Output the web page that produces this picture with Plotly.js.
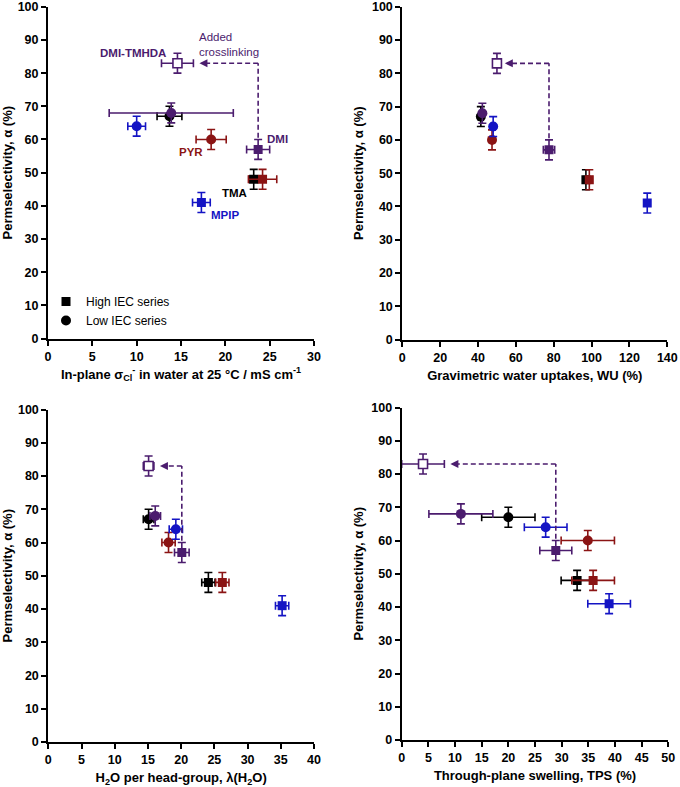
<!DOCTYPE html>
<html><head><meta charset="utf-8">
<script src="https://cdn.plot.ly/plotly-3.0.1.min.js"></script>
<style>html,body{margin:0;padding:0;background:#fff}#chart{width:680px;height:787px}</style>
</head><body><div id="chart"></div>
<script>
// ---------- data ----------
const series = ["DMI-TMHDA", "DMI high IEC", "TMA high IEC", "PYR high IEC", "MPIP high IEC",
                "TMA low IEC", "DMI low IEC", "PYR low IEC", "MPIP low IEC"];
const seriesColor = ["#4b1c6e", "#4b1c6e", "#000000", "#8b1414", "#1414c4",
                     "#000000", "#4b1c6e", "#8b1414", "#1414c4"];
const seriesSymbol = ["square", "square", "square", "square", "square",
                      "circle", "circle", "circle", "circle"];
const alpha    = [83, 57, 48, 48, 41, 67, 68, 60, 64];
const alphaErr = [3, 3, 3, 3, 3, 3, 3, 3, 3];
const sigmaCl    = [14.6, 23.7, 23.2, 24.2, 17.3, 13.7, 13.9, 18.4, 10.0];
const sigmaClErr = [1.8, 1.3, 0.5, 1.6, 1.0, 1.4, 7.0, 1.7, 1.0];
const waterUptake    = [50, 77.5, 97, 98.8, 129.4, 41.5, 42.3, 47.4, 48];
const waterUptakeErr = [1, 3, 1.2, 1.5, 1.5, 1, 1, 1, 1];
const lambdaH2O = [15.1, 20.1, 24.1, 26.2, 35.2, 15.1, 16.1, 18.1, 19.2];
const lambdaErr = [0.8, 1.1, 1.0, 1.0, 1.0, 0.8, 0.8, 1.0, 1.0];
const tps    = [4, 28.9, 32.9, 35.9, 38.9, 20.0, 11.1, 34.9, 27.0];
const tpsErr = [4, 3, 3, 4, 4, 5, 6, 5, 4];
const legendNames = ["High IEC series", "Low IEC series"];
const xTitles = ["In-plane σ<sub>Cl</sub><sup>-</sup> in water at 25 °C / mS cm<sup>-1</sup>",
                 "Gravimetric water uptakes, WU (%)",
                 "H<sub>2</sub>O per head-group, λ(H<sub>2</sub>O)",
                 "Through-plane swelling, TPS (%)"];
const yTitle = "Permselectivity, α (%)";

// ---------- layout helpers ----------
const W = 680, H = 787;
const FONT = "Liberation Sans, Arial, sans-serif";
const Y_RANGE = [0, 100], Y_DTICK = 10, Y_MINOR = 1;
const panels = [
  {xs: sigmaCl, xe: sigmaClErr, range: [0, 30], dtick: 5, minor: 1, px: [48, 314], py: [6.8, 338.5]},
  {xs: waterUptake, xe: waterUptakeErr, range: [0, 140], dtick: 20, minor: 2, px: [402.3, 667.3], py: [6.8, 339.5]},
  {xs: lambdaH2O, xe: lambdaErr, range: [0, 40], dtick: 5, minor: 1, px: [48.3, 314], py: [409.5, 742]},
  {xs: tps, xe: tpsErr, range: [0, 50], dtick: 5, minor: 1, px: [401.7, 668.3], py: [407.5, 740]}
];

const traces = [];
const layout = {
  width: W, height: H, margin: {l: 0, r: 0, t: 0, b: 0},
  paper_bgcolor: "#fff", plot_bgcolor: "#fff",
  font: {family: FONT, size: 12, color: "#000"},
  showlegend: true,
  legend: {x: 46 / W, y: 1 - 287 / H, xanchor: "left", yanchor: "top",
           bgcolor: "rgba(0,0,0,0)", font: {size: 12, family: FONT}, tracegroupgap: 0, itemwidth: 30},
  shapes: [], annotations: []
};

function mainAxis(extra) {
  return Object.assign({
    showline: true, linecolor: "#000", linewidth: 2, ticks: "outside", ticklen: 5, tickwidth: 2,
    tickcolor: "#000", showgrid: false, zeroline: false, ticklabeloverflow: "allow",
    tickfont: {family: FONT, size: 12.5, weight: "bold", color: "#000"}
  }, extra);
}
// minor tick positions between major ticks of an axis
function minorVals(r, step, major) {
  const v = [];
  const nSteps = Math.round((r[1] - r[0]) / step);
  for (let j = 0; j <= nSteps; j++) {
    const t = r[0] + j * step;
    if (Math.abs(t / major - Math.round(t / major)) > 1e-6) v.push(t);
  }
  return v;
}
const TICK_LEN = 4, TICK_OFF = 3;   // px: minor tick length, centre distance outside the plot edge

panels.forEach((p, k) => {
  const n = k === 0 ? "" : String(k + 1);
  const xa = "x" + n, ya = "y" + n;
  const xDom = [p.px[0] / W, p.px[1] / W];
  const yDom = [1 - p.py[1] / H, 1 - p.py[0] / H];
  const pxPerX = (p.px[1] - p.px[0]) / (p.range[1] - p.range[0]);
  const pxPerY = (p.py[1] - p.py[0]) / (Y_RANGE[1] - Y_RANGE[0]);

  layout["xaxis" + n] = mainAxis({
    anchor: ya, domain: xDom, range: p.range, dtick: p.dtick,
    title: {text: xTitles[k], font: {family: FONT, size: 13, weight: "bold"}, standoff: 7}
  });
  layout["yaxis" + n] = mainAxis({
    anchor: xa, domain: yDom, range: Y_RANGE, dtick: Y_DTICK,
    title: {text: yTitle, font: {family: FONT, size: 13, weight: "bold"}, standoff: 5}
  });

  // minor tick marks, placed through the axes' own scales just outside each axis line
  const mx = minorVals(p.range, p.minor, p.dtick);
  const my = minorVals(Y_RANGE, Y_MINOR, Y_DTICK);
  traces.push({type: "scatter", mode: "markers", xaxis: xa, yaxis: ya, showlegend: false,
               hoverinfo: "skip", cliponaxis: false,
               x: mx, y: mx.map(() => Y_RANGE[0] - TICK_OFF / pxPerY),
               marker: {symbol: "line-ns", size: TICK_LEN / 1.4, line: {color: "#000", width: 1}}});
  traces.push({type: "scatter", mode: "markers", xaxis: xa, yaxis: ya, showlegend: false,
               hoverinfo: "skip", cliponaxis: false,
               x: my.map(() => p.range[0] - TICK_OFF / pxPerX), y: my,
               marker: {symbol: "line-ew", size: TICK_LEN / 1.4, line: {color: "#000", width: 1}}});

  for (let i = 0; i < series.length; i++) {
    const open = i === 0;
    traces.push({
      type: "scatter", mode: "markers", xaxis: xa, yaxis: ya, showlegend: false,
      name: series[i], x: [p.xs[i]], y: [alpha[i]],
      marker: {symbol: seriesSymbol[i], size: seriesSymbol[i] === "circle" ? 10 : 9,
               color: open ? "#ffffff" : seriesColor[i],
               line: {color: seriesColor[i], width: open ? 1.6 : 0}},
      error_x: {type: "data", array: [p.xe[i]], color: seriesColor[i], thickness: 1.6, width: 4},
      error_y: {type: "data", array: [alphaErr[i]], color: seriesColor[i], thickness: 1.6, width: 4}
    });
  }

  // crosslinking arrow (dashed) from DMI high to DMI-TMHDA
  const headX = p.xs[0] + p.xe[0] + 6 / pxPerX;
  const purple = seriesColor[1];
  layout.shapes.push({type: "line", xref: xa, yref: ya, x0: p.xs[1], x1: p.xs[1],
                      y0: alpha[1] + alphaErr[1] + 0.5, y1: alpha[0],
                      line: {color: purple, width: 1.6, dash: "5px,3px"}});
  layout.shapes.push({type: "line", xref: xa, yref: ya, x0: p.xs[1], x1: headX + 4 / pxPerX,
                      y0: alpha[0], y1: alpha[0],
                      line: {color: purple, width: 1.6, dash: "5px,3px"}});
  layout.annotations.push({xref: xa, yref: ya, x: headX, y: alpha[0], ax: 9, ay: 0,
                           showarrow: true, arrowhead: 2, arrowsize: 1, arrowwidth: 1.6,
                           arrowcolor: purple, text: ""});
});

// legend entries (black markers)
["square", "circle"].forEach((s, i) => {
  traces.push({type: "scatter", mode: "markers", x: [null], y: [null], xaxis: "x", yaxis: "y",
               name: legendNames[i], showlegend: true,
               marker: {symbol: s, size: s === "circle" ? 10 : 9, color: "#000"}});
});

// point labels (top-left panel)
const labelIdx = [0, 1, 7, 2, 4];
const labelText = ["DMI-TMHDA", "DMI", "PYR", "TMA", "MPIP"];
const labelPos = [
  {xanchor: "right", xshift: -9, yshift: 10},
  {xanchor: "left", xshift: 7, yshift: 10},
  {xanchor: "right", xshift: -6, yshift: -13},
  {xanchor: "right", xshift: -5, yshift: -14},
  {xanchor: "left", xshift: 8, yshift: -12}
];
labelIdx.forEach((idx, j) => {
  layout.annotations.push(Object.assign({
    xref: "x", yref: "y", x: sigmaCl[idx], y: alpha[idx], showarrow: false,
    text: labelText[j], yanchor: "middle",
    font: {family: FONT, size: 11.5, weight: "bold", color: seriesColor[idx]}
  }, labelPos[j]));
});
layout.annotations.push({
  xref: "x", yref: "y", x: sigmaCl[1], y: alpha[0], xanchor: "right", yanchor: "bottom",
  xshift: 3, yshift: 3, showarrow: false, align: "left",
  text: "Added<br>crosslinking", font: {family: FONT, size: 11.5, color: seriesColor[1]}
});

Plotly.newPlot("chart", traces, layout, {displayModeBar: false});
</script></body></html>
